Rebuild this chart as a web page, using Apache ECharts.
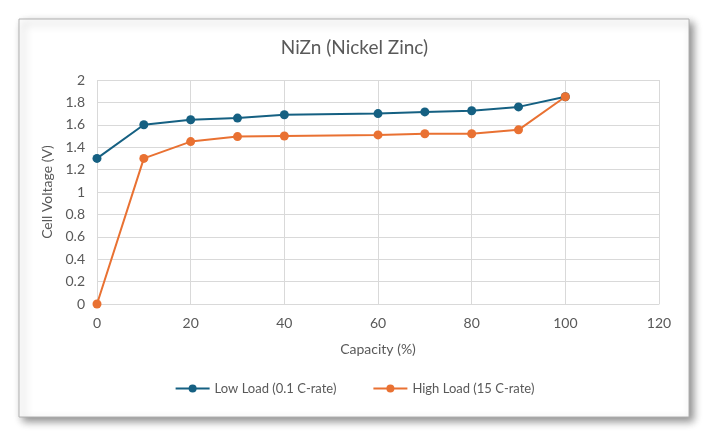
<!DOCTYPE html>
<html>
<head>
<meta charset="utf-8">
<script src="https://cdn.jsdelivr.net/npm/echarts@6/dist/echarts.min.js"></script>
<style>
  html, body { margin: 0; padding: 0; background: #fff; }
  #main { width: 709px; height: 437px; }
</style>
</head>
<body>
<div id="main"></div>
<script>
// capacity (%) for each reading
var capacity = [0, 10, 20, 30, 40, 60, 70, 80, 90, 100];
var lowLoad = [1.3, 1.6, 1.645, 1.66, 1.69, 1.70, 1.715, 1.725, 1.76, 1.85];
var highLoad = [0, 1.3, 1.45, 1.495, 1.50, 1.51, 1.52, 1.52, 1.555, 1.85];
var seriesNames = ['Low Load (0.1 C-rate)', 'High Load (15 C-rate)'];

var font = 'Lato, "Noto Sans", sans-serif';
var chart = echarts.init(document.getElementById('main'));

function pairs(xs, ys) {
  return xs.map(function (x, i) { return [x, ys[i]]; });
}

var option = {
  animation: false,
  color: ['#156082', '#E97132'],
  textStyle: { fontFamily: font },
  graphic: [{
    type: 'rect',
    shape: { x: 19, y: 19, width: 670, height: 398 },
    style: {
      fill: '#fff',
      stroke: '#b0b0b0',
      lineWidth: 1,
      shadowBlur: 8,
      shadowOffsetX: 4,
      shadowOffsetY: 4,
      shadowColor: 'rgba(0,0,0,0.45)'
    },
    z: -10
  }],
  title: {
    text: 'NiZn (Nickel Zinc)',
    left: 'center',
    top: 33,
    textStyle: { fontFamily: font, fontSize: 19, fontWeight: 'normal', color: '#595959' }
  },
  legend: {
    bottom: 37,
    left: 'center',
    itemGap: 36,
    itemWidth: 34,
    itemHeight: 10,
    data: seriesNames,
    textStyle: { fontFamily: font, fontSize: 13, color: '#595959' }
  },
  grid: { left: 97, right: 50, top: 80, bottom: 133 },
  xAxis: {
    type: 'value',
    min: 0, max: 120, interval: 20,
    name: 'Capacity (%)',
    nameLocation: 'middle',
    nameGap: 38,
    nameTextStyle: { fontFamily: font, fontSize: 14, color: '#595959' },
    axisLine: { lineStyle: { color: '#d9d9d9' } },
    axisTick: { show: false },
    axisLabel: { fontFamily: font, fontSize: 14, color: '#595959', margin: 12 },
    splitLine: { lineStyle: { color: '#d9d9d9' } }
  },
  yAxis: {
    type: 'value',
    min: 0, max: 2, interval: 0.2,
    name: 'Cell Voltage (V)',
    nameLocation: 'middle',
    nameGap: 42,
    nameTextStyle: { fontFamily: font, fontSize: 14, color: '#595959' },
    axisLine: { show: false },
    axisTick: { show: false },
    axisLabel: { fontFamily: font, fontSize: 14, color: '#595959', margin: 12 },
    splitLine: { lineStyle: { color: '#d9d9d9' } }
  },
  series: [
    {
      name: seriesNames[0],
      type: 'line',
      data: pairs(capacity, lowLoad),
      symbol: 'circle',
      symbolSize: 9,
      lineStyle: { width: 2 }
    },
    {
      name: seriesNames[1],
      type: 'line',
      data: pairs(capacity, highLoad),
      symbol: 'circle',
      symbolSize: 9,
      lineStyle: { width: 2 }
    }
  ]
};

chart.setOption(option);
</script>
</body>
</html>
